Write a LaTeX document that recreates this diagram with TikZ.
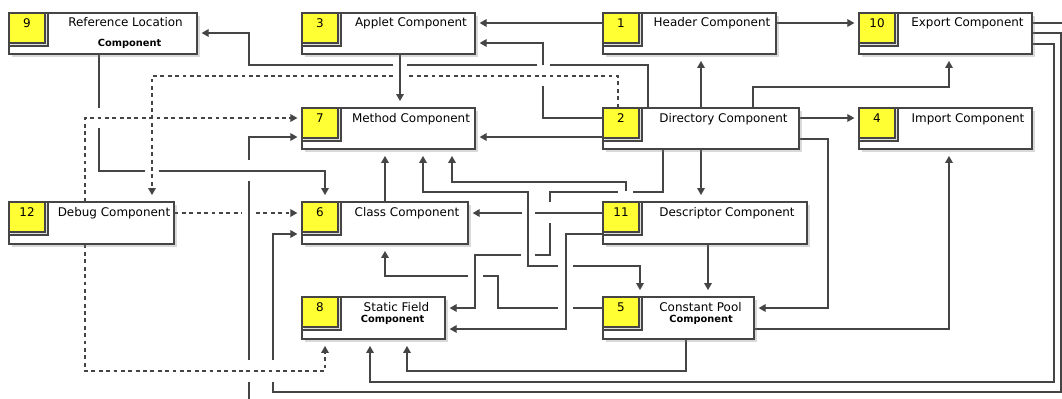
\documentclass[tikz,border=0pt]{standalone}
\usepackage{fontspec}
\setmainfont{DejaVu Sans}
\usetikzlibrary{arrows.meta,shadows,fit,backgrounds}

\definecolor{tagyellow}{HTML}{FFFF33}
\definecolor{linegray}{HTML}{454545}

\tikzset{
  box/.style={draw=linegray, fill=white, line width=0.7pt, inner sep=0pt,
    drop shadow={shadow xshift=1.6pt, shadow yshift=-1.6pt, opacity=0.3}},
  notch/.style={draw=linegray, fill=white, line width=0.7pt, inner sep=0pt},
  tag/.style={draw=linegray, fill=tagyellow, line width=0.7pt, inner sep=0pt,
    anchor=north west, minimum width=20.5pt, text height=8pt, text depth=9.1pt,
    font=\fontsize{6.8pt}{8pt}\selectfont,
    drop shadow={shadow xshift=1pt, shadow yshift=-1pt, opacity=0.25}},
  lbl/.style={anchor=base, inner sep=0pt, font=\fontsize{6.8pt}{8pt}\selectfont},
  sub/.style={anchor=base, inner sep=0pt, font=\fontsize{5.6pt}{7pt}\selectfont\bfseries},
  conn/.style={draw=linegray, line width=0.6pt,
    -{Triangle[length=4pt,width=4.4pt]}, shorten >=2.3pt},
  vtip/.style={shorten >=3.6pt},
  dep/.style={conn, dash pattern=on 2.2pt off 2pt},
}

\begin{document}
\begin{tikzpicture}[x=0.02cm, y=-0.02cm]
  \useasboundingbox (0,0) rectangle (1062,399);

  % 9 Reference Location Component
  \node[box, fit={(9,13) (197,54)}] (ref) {};
  \node[notch, fit={(9,13) (48,46)}] (ref-f) {};
  \node[tag] (ref-n) at (ref.north west) {9};
  \node[lbl] (ref-l) at (125.5,27) {Reference Location};
  \node[sub] (ref-s) at (129.5,47) {Component};

  % 3 Applet Component
  \node[box, fit={(302,13) (475,54)}] (apl) {};
  \node[notch, fit={(302,13) (341,46)}] (apl-f) {};
  \node[tag] (apl-n) at (apl.north west) {3};
  \node[lbl] (apl-l) at (411,27) {Applet Component};

  % 1 Header Component
  \node[box, fit={(603,13) (776,54)}] (hdr) {};
  \node[notch, fit={(603,13) (642,46)}] (hdr-f) {};
  \node[tag] (hdr-n) at (hdr.north west) {1};
  \node[lbl] (hdr-l) at (712,27) {Header Component};

  % 10 Export Component
  \node[box, fit={(859,13) (1032,54)}] (exp) {};
  \node[notch, fit={(859,13) (898,46)}] (exp-f) {};
  \node[tag] (exp-n) at (exp.north west) {10};
  \node[lbl] (exp-l) at (967.5,27) {Export Component};

  % 7 Method Component
  \node[box, fit={(302,108) (475,149)}] (mth) {};
  \node[notch, fit={(302,108) (341,141)}] (mth-f) {};
  \node[tag] (mth-n) at (mth.north west) {7};
  \node[lbl] (mth-l) at (411,122) {Method Component};

  % 2 Directory Component
  \node[box, fit={(603,108) (799,149)}] (dir) {};
  \node[notch, fit={(603,108) (642,141)}] (dir-f) {};
  \node[tag] (dir-n) at (dir.north west) {2};
  \node[lbl] (dir-l) at (723.5,122) {Directory Component};

  % 4 Import Component
  \node[box, fit={(859,108) (1032,149)}] (imp) {};
  \node[notch, fit={(859,108) (898,141)}] (imp-f) {};
  \node[tag] (imp-n) at (imp.north west) {4};
  \node[lbl] (imp-l) at (968,122) {Import Component};

  % 12 Debug Component
  \node[box, fit={(9,202) (174,244)}] (dbg) {};
  \node[notch, fit={(9,202) (48,235)}] (dbg-f) {};
  \node[tag] (dbg-n) at (dbg.north west) {12};
  \node[lbl] (dbg-l) at (114,216) {Debug Component};

  % 6 Class Component
  \node[box, fit={(302,202) (468,244)}] (cls) {};
  \node[notch, fit={(302,202) (341,235)}] (cls-f) {};
  \node[tag] (cls-n) at (cls.north west) {6};
  \node[lbl] (cls-l) at (407,216) {Class Component};

  % 11 Descriptor Component
  \node[box, fit={(603,202) (807,244)}] (dsc) {};
  \node[notch, fit={(603,202) (642,235)}] (dsc-f) {};
  \node[tag] (dsc-n) at (dsc.north west) {11};
  \node[lbl] (dsc-l) at (727,216) {Descriptor Component};

  % 8 Static Field Component
  \node[box, fit={(302,297) (445,339)}] (sfd) {};
  \node[notch, fit={(302,297) (341,330)}] (sfd-f) {};
  \node[tag] (sfd-n) at (sfd.north west) {8};
  \node[lbl] (sfd-l) at (396.5,311) {Static Field};
  \node[sub] (sfd-s) at (392.5,322) {Component};

  % 5 Constant Pool Component
  \node[box, fit={(603,297) (754,339)}] (cpl) {};
  \node[notch, fit={(603,297) (642,330)}] (cpl-f) {};
  \node[tag] (cpl-n) at (cpl.north west) {5};
  \node[lbl] (cpl-l) at (700.5,311) {Constant Pool};
  \node[sub] (cpl-s) at (701,322) {Component};

  % connectors, behind the boxes (gaps where lines hop)
  \begin{scope}[on background layer]
    \clip (0,0) rectangle (1062,399);

    % Header
    \draw[conn] (hdr.west |- 0,23) -- (apl.east |- 0,23);
    \draw[conn] (hdr.east |- 0,23) -- (exp.west |- 0,23);

    % Directory
    \draw[conn] (dir.west |- 0,118) -| (543,86) (543,65) |- (apl.east |- 0,43);
    \draw[conn] (dir.north -| 648,0) |- (550,65) (537,65) -- (407,65)
      (393,65) -| (249,33) -- (ref.east |- 0,33);
    \draw[dep, vtip] (dir.north -| 618,0) |- (407,76) (393,76) -| (dbg.north -| 152,0);
    \draw[conn, vtip] (dir.north -| 701,0) -- (hdr.south -| 701,0);
    \draw[conn, vtip] (dir.north -| 753,0) |- (949,87) -- (exp.south -| 949,0);
    \draw[conn] (dir.east |- 0,118) -- (imp.west |- 0,118);
    \draw[conn] (dir.west |- 0,137) -- (mth.east |- 0,137);
    \draw[conn, vtip] (dir.south -| 701,0) -- (dsc.north -| 701,0);
    \draw[conn] (dir.south -| 663,0) |- (633,192) (618,192) -| (550,202)
      (550,223) |- (535,255) (521,255) -| (475,308) -- (sfd.east |- 0,308);
    \draw[conn] (dir.east |- 0,139) -| (828,308) -- (cpl.east |- 0,308);

    % Applet and Reference Location
    \draw[conn, vtip] (apl.south -| 400,0) -- (mth.north -| 400,0);
    \draw[conn, vtip] (ref.south -| 99,0) -- (99,108) (99,128) |- (145,171)
      (159,171) -| (cls.north -| 325,0);

    % Debug
    \draw[dep] (dbg.north -| 85,0) |- (mth.west |- 0,118);
    \draw[dep, vtip] (dbg.south -| 85,0) |- (325,371) -- (sfd.south -| 325,0);
    \draw[dep] (dbg.east |- 0,213) -- (242,213) (256,213) -- (cls.west |- 0,213);

    % Export
    \draw[conn] (exp.east |- 0,23) -- (1075,23) -- (1075,410) -| (249,382)
      (249,360) -- (249,181) (249,160) |- (mth.west |- 0,137);
    \draw[conn] (exp.east |- 0,33) -| (1061,392) -| (273,382)
      (273,360) |- (cls.west |- 0,234);
    \draw[conn, vtip] (exp.east |- 0,44) -| (1054,382) -| (sfd.south -| 370,0);

    % Descriptor
    \draw[conn, vtip] (dsc.north -| 626,0) ++(0,-10) |- (452,182) -- (mth.south -| 452,0);
    \draw[conn] (dsc.west |- 0,213) -- (535,213) (522,213) -- (cls.east |- 0,213);
    \draw[conn] (dsc.west |- 0,234) -| (566,329) -- (sfd.east |- 0,329);
    \draw[conn, vtip] (dsc.south -| 708,0) -- (cpl.north -| 708,0);

    % Class, Method and Constant Pool (arrow at both ends, hop at x=566)
    \draw[conn, vtip] (cls.north -| 385,0) -- (mth.south -| 385,0);
    \draw[conn, vtip] (558,266) -| (528,192) -| (mth.south -| 423,0);
    \draw[conn, vtip] (573,266) -| (cpl.north -| 640,0);
    \draw[conn, vtip] (cpl.west |- 0,308) -- (573,308) (558,308) -| (498,276) -- (483,276)
      (468,276) -| (cls.south -| 385,0);
    \draw[conn, vtip] (cpl.east |- 0,329) -| (imp.south -| 949,0);
    \draw[conn, vtip] (cpl.south -| 686,0) |- (407,371) -- (sfd.south -| 407,0);
  \end{scope}
\end{tikzpicture}
\end{document}
